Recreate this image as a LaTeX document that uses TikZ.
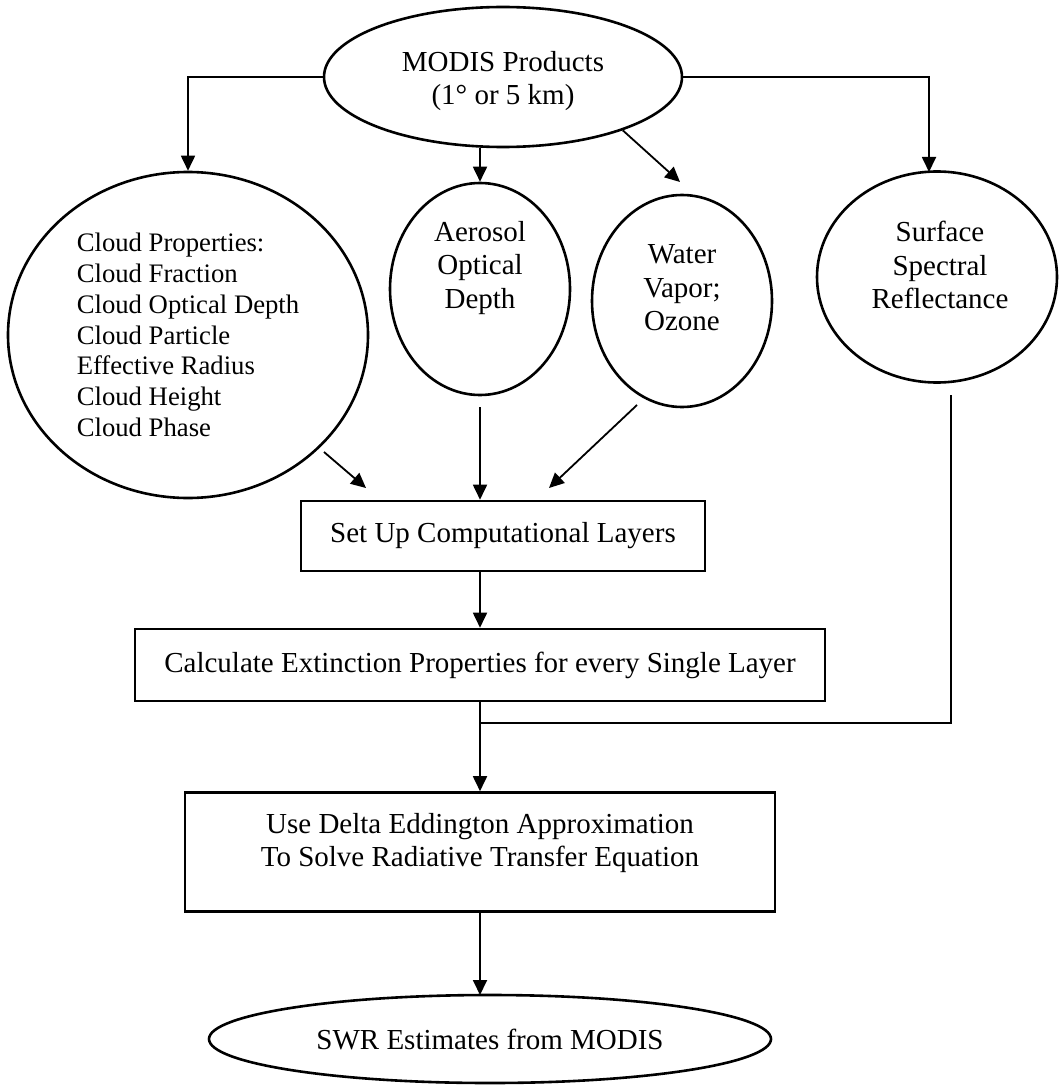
\documentclass[tikz,border=0pt]{standalone}
\usepackage{fontspec}
\setmainfont{Liberation Serif}
\usetikzlibrary{arrows.meta,shapes.geometric}
\begin{document}
\begin{tikzpicture}[x=1pt,y=-1pt,
  outl/.style={draw, line width=2.6pt, inner sep=0pt},
  ell/.style={outl, ellipse},
  boxr/.style={outl, rectangle},
  txt/.style={align=center, inner sep=0pt, font=\fontsize{29}{33.5}\selectfont},
  conn/.style={line width=1.8pt, -{Triangle[length=15pt,width=14pt]}},
  plain/.style={line width=1.8pt}]
\useasboundingbox (0,0) rectangle (1058,1086);

% shapes
\node[ell, minimum width=358pt, minimum height=140pt] (modis) at (503,77) {};
\node[txt] (modisT) at (503,81) {MODIS Products\\(1° or 5 km)};

\node[ell, minimum width=360pt, minimum height=326pt, align=left,
      font=\fontsize{26.7}{30.8}\selectfont] (cloud) at (188,335)
  {Cloud Properties:\\Cloud Fraction\\Cloud Optical Depth\\Cloud Particle\\Effective Radius\\Cloud Height\\Cloud Phase};

\node[ell, minimum width=180pt, minimum height=212pt] (aero) at (480,289) {};
\node[txt] (aeroT) at (480,268) {Aerosol\\Optical\\Depth};

\node[ell, minimum width=180pt, minimum height=212pt] (water) at (682,301) {};
\node[txt] (waterT) at (682,288) {Water\\Vapor;\\Ozone};

\node[ell, minimum width=240pt, minimum height=211pt] (surf) at (937,277) {};
\node[txt] (surfT) at (940,265) {Surface\\Spectral\\Reflectance};

\node[boxr, txt, draw, line width=2.6pt, minimum width=404pt, minimum height=70pt] (setup) at (503,536) {Set Up Computational Layers};
\node[boxr, txt, draw, line width=2.6pt, minimum width=690pt, minimum height=72pt] (calc) at (480,665) {Calculate Extinction Properties for every Single Layer};

\node[boxr, minimum width=590pt, minimum height=119pt] (delta) at (480,852) {};
\node[txt] (deltaT) at (480,843) {Use Delta Eddington Approximation\\To Solve Radiative Transfer Equation};

\node[ell, txt, draw, line width=2.6pt, minimum width=562pt, minimum height=88pt] (swr) at (490,1039) {SWR Estimates from MODIS};

% free ends
\coordinate (waterTip) at (680,182);
\coordinate (cloudOut) at (324,452);
\coordinate (cloudTip) at (366,488);
\coordinate (waterOut) at (637,405);
\coordinate (waterTip2) at (549,488);
\coordinate (aeroOut) at (480,407);
\coordinate (surfOut) at (951,395);
\coordinate (join) at (480,723);
\coordinate (surfIn) at (929,172);
\coordinate (swrIn) at (480,995);

% connectors
\draw[conn] (modis.west) -| (cloud.north);
\draw[conn] (modis.east) -| (surfIn);
\draw[conn] (aero.north |- modis.south) -- (aero.north);
\draw[conn] (modis.-24) -- (waterTip);
\draw[conn] (cloudOut) -- (cloudTip);
\draw[conn] (aeroOut) -- (aeroOut |- setup.north);
\draw[conn] (waterOut) -- (waterTip2);
\draw[conn] (calc.north |- setup.south) -- (calc.north);
\draw[conn] (calc.south) -- (delta.north);
\draw[plain] (surfOut) |- (join);
\draw[conn] (delta.south) -- (swrIn);
\end{tikzpicture}
\end{document}
